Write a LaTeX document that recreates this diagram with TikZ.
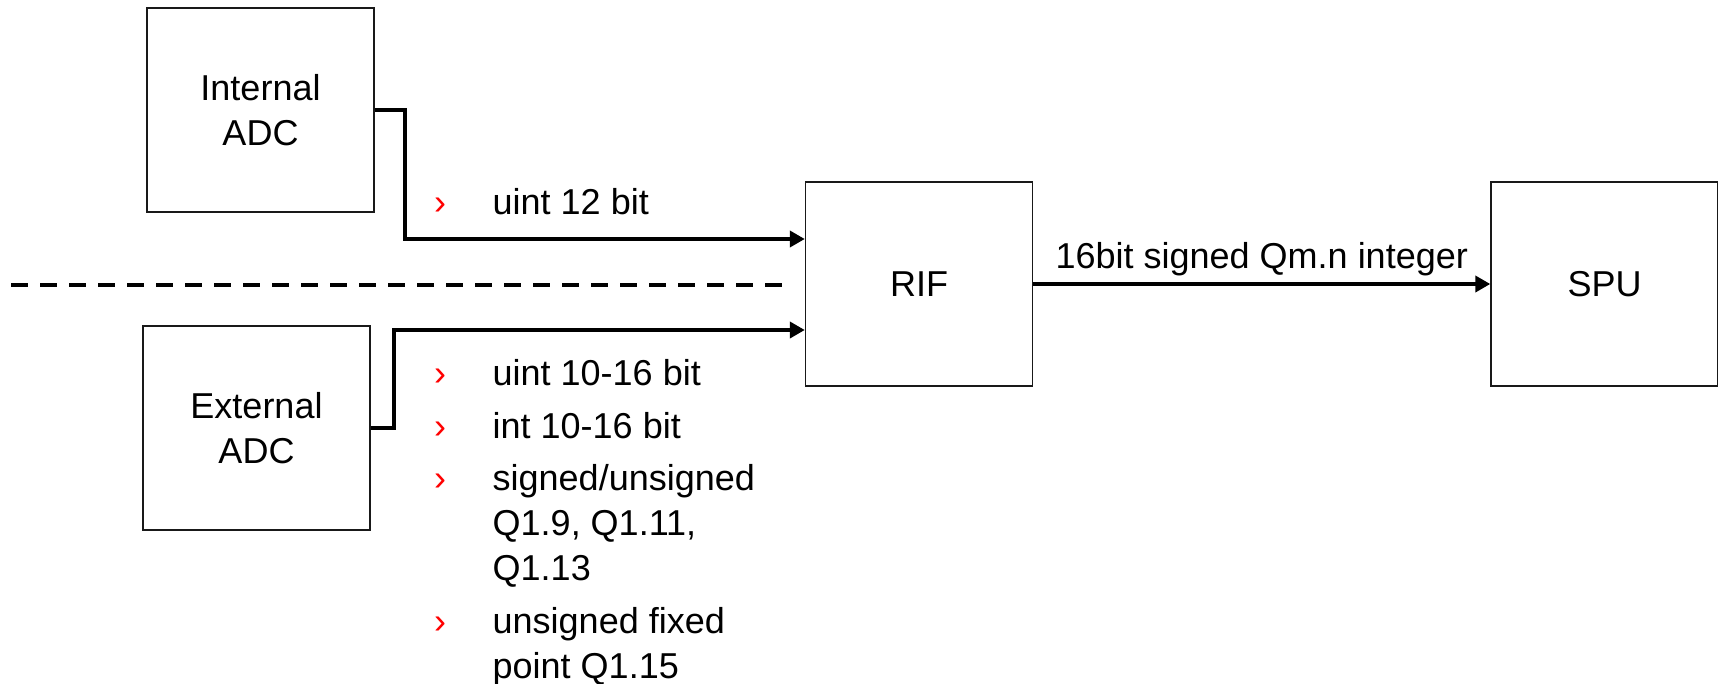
\documentclass[tikz,border=0pt]{standalone}
\usepackage{fontspec}
\setmainfont{Liberation Sans}
\usetikzlibrary{arrows.meta}
\begin{document}
\begin{tikzpicture}[x=1pt,y=-1pt,
  blk/.style={draw=black!90,line width=1.4pt,minimum width=227pt,minimum height=204pt,inner sep=0pt,align=center,font=\fontsize{36}{45}\selectfont},
  lbl/.style={anchor=base west,inner sep=0pt,font=\fontsize{36}{45}\selectfont},
  bul/.style={anchor=base west,inner sep=0pt,text=red,font=\fontsize{36}{45}\selectfont},
  conn/.style={line width=3.8pt,-{Triangle[length=15pt,width=16pt]}},
  sep/.style={line width=4pt,dash pattern=on 17pt off 12pt},
]
\useasboundingbox (0,0) rectangle (1718,683);
\node[blk] (int) at (260.5,110) {Internal\\ADC};
\node[blk] (ext) at (256.5,428) {External\\ADC};
\node[blk] (rif) at (919,284) {RIF};
\node[blk] (spu) at (1604.5,284) {SPU};
\coordinate (ib) at (405,239);
\coordinate (eb) at (394,330);
\draw[conn] (int.east) -| (ib) -- (ib -| rif.west);
\draw[conn] (ext.east) -| (eb) -- (eb -| rif.west);
\draw[conn] (rif.east) -- (spu.west) node[midway,above=6pt,inner sep=0pt,font=\fontsize{36}{45}\selectfont] (lab) {16bit signed Qm.n integer};
\coordinate (d0) at (11,285);
\coordinate (d1) at (785,285);
\draw[sep] (d0) -- (d1);
\node[bul] (b0) at (434,214) {›};
\node[lbl] (t0) at (492.5,214) {uint 12 bit};
\node[bul] (b1) at (434,385) {›};
\node[lbl] (t1) at (492.5,385) {uint 10-16 bit};
\node[bul] (b2) at (434,438) {›};
\node[lbl] (t2) at (492.5,438) {int 10-16 bit};
\node[bul] (b3) at (434,490) {›};
\node[lbl] (t3) at (492.5,490) {signed/unsigned};
\node[lbl] (t3b) at (492.5,535) {Q1.9, Q1.11,};
\node[lbl] (t3c) at (492.5,580) {Q1.13};
\node[bul] (b4) at (434,633) {›};
\node[lbl] (t4) at (492.5,633) {unsigned fixed};
\node[lbl] (t4b) at (492.5,678) {point Q1.15};
\end{tikzpicture}
\end{document}
